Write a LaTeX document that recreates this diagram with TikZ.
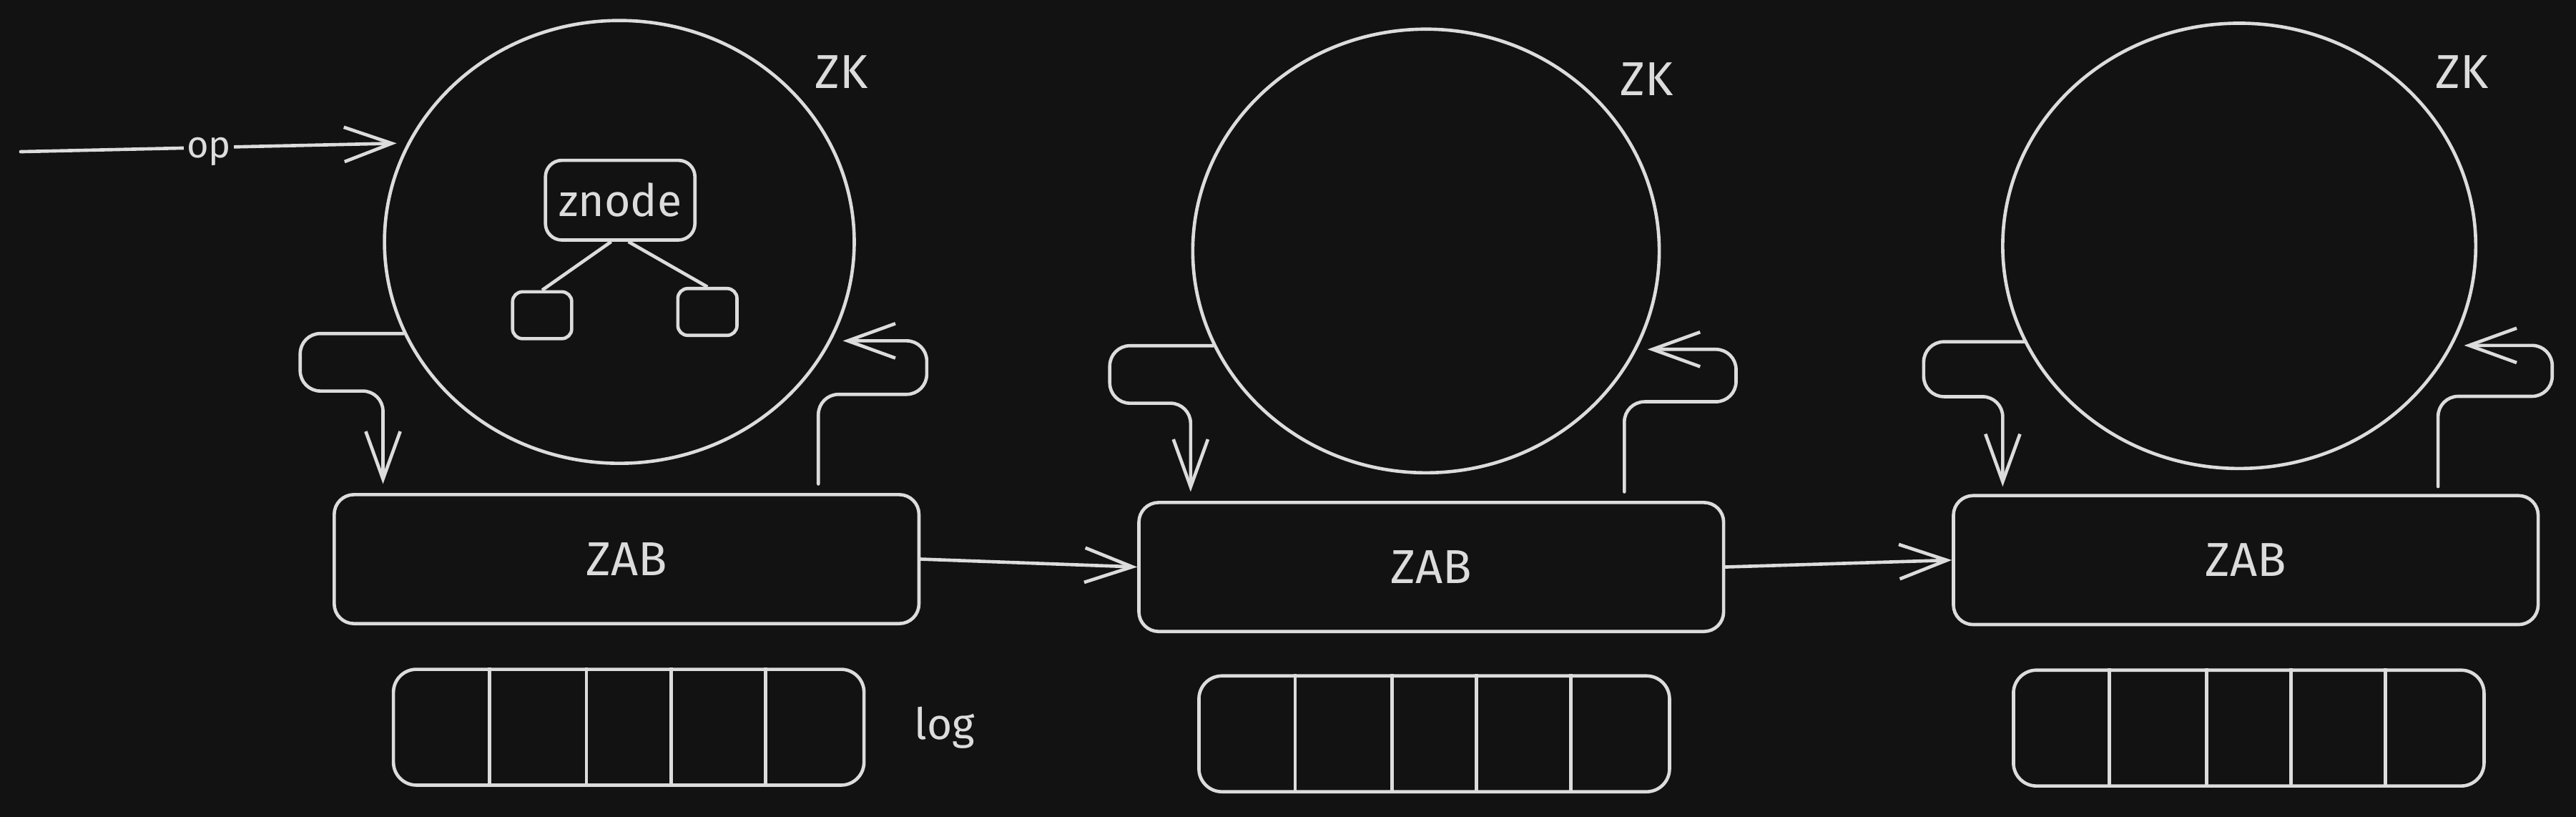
\documentclass[tikz,border=0pt]{standalone}
\usepackage{fontspec}
\setmainfont{Fira Sans}
\usetikzlibrary{shapes.geometric,arrows.meta,calc}
\definecolor{bg}{HTML}{121212}
\definecolor{fg}{HTML}{DCDCDC}
\tikzset{
  sk/.style={draw=fg, line width=1.15pt},
  ellip/.style={sk, ellipse, inner sep=0pt},
  zabbox/.style={sk, rounded corners=0.24cm, minimum width=7.12cm, minimum height=1.57cm, text=fg, font=\fontsize{16.5}{19}\selectfont},
  logbox/.style={sk, rounded corners=0.28cm, minimum width=5.73cm, minimum height=1.41cm},
  smallbox/.style={sk, rounded corners=0.12cm, minimum width=0.72cm, minimum height=0.57cm, inner sep=0pt},
  znodebox/.style={sk, rounded corners=0.2cm, minimum width=1.82cm, minimum height=0.97cm, inner sep=0pt, text=fg, font=\fontsize{15.5}{18}\selectfont},
  lbl/.style={text=fg, inner sep=0pt, font=\fontsize{16.5}{19}\selectfont},
  arr/.style={draw=fg, line width=1.15pt, line cap=round, line join=round, -{Straight Barb[length=0.58cm,width=0.42cm]}},
  loop/.style={arr, rounded corners=7pt}
}
\begin{document}
\begin{tikzpicture}[x=0.02cm,y=-0.02cm]
\fill[bg] (0,0) rectangle (1568,497.1);
\useasboundingbox (0,0) rectangle (1568,497.1);

% ZK ellipses
\node[ellip, minimum width=5.72cm, minimum height=5.39cm] (zk1) at (377,147.2) {};
\node[ellip, minimum width=5.68cm, minimum height=5.40cm] (zk2) at (868,152.7) {};
\node[ellip, minimum width=5.76cm, minimum height=5.42cm] (zk3) at (1363,149.6) {};
\node[lbl] (zkl1) at (512.3,43.7) {ZK};
\node[lbl] (zkl2) at (1002.5,48.3) {ZK};
\node[lbl] (zkl3) at (1498.5,43.6) {ZK};

% znode tree
\node[znodebox] (zn) at (377.5,121.8) {znode};
\node[smallbox] (sa) at (330,191.8) {};
\node[smallbox] (sb) at (430.6,189.8) {};
\draw[sk] ($(zn.south)+(-5.5,0)$) -- (sa.north);
\draw[sk] ($(zn.south)+(5,0)$) -- (sb.north);

% ZAB boxes
\node[zabbox] (zab1) at (381.4,340.2) {ZAB};
\node[zabbox] (zab2) at (871.2,345) {ZAB};
\node[zabbox] (zab3) at (1367,340.8) {ZAB};

% log boxes
\node[logbox] (log1) at (382.7,442.5) {};
\node[logbox] (log2) at (873,446.5) {};
\node[logbox] (log3) at (1368.8,443) {};
\foreach \lg in {log1,log2,log3}{
  \foreach \o in {59.5,118.5,170,227.5}{
    \draw[sk] ($(\lg.north west)+(\o,0)$) -- ($(\lg.south west)+(\o,0)$);
  }
}
\node[lbl, font=\fontsize{15}{18}\selectfont] (logl) at (575,443) {log};

% op arrow
\coordinate (opstart) at (12.6,92.3);
\draw[arr, shorten >=0.13cm] (opstart) -- node[pos=0.487, fill=bg, text=fg, inner xsep=1pt, inner ysep=2pt, yshift=-1.5pt, font=\fontsize{13}{15}\selectfont] (opl) {op} (zk1.155);

% loops ZK -> ZAB (left) and ZAB -> ZK (right)
\draw[loop, shorten >=0.11cm] (zk1.203) -| ++(-63,35) -| ($(zab1.north west)+(30.7,0)$);
\draw[loop, shorten <=0.11cm, shorten >=0.14cm] ($(zab1.north west)+(295.7,0)$) |- ++(66,-60) |- (zk1.-25);

\draw[loop, shorten >=0.11cm] (zk2.204) -| ++(-63,35) -| ($(zab2.north west)+(32.5,0)$);
\draw[loop, shorten <=0.11cm, shorten >=0.13cm] ($(zab2.north west)+(296.5,0)$) |- ++(68,-60.3) |- (zk2.-25);

\draw[loop, shorten >=0.09cm] (zk3.204) -| ++(-61,33.4) -| ($(zab3.north west)+(31,0)$);
\draw[loop, shorten <=0.09cm, shorten >=0.14cm] ($(zab3.north west)+(296,0)$) |- ++(69.5,-59.4) |- (zk3.-25);

% ZAB -> ZAB
\draw[arr] (zab1.east) -- (zab2.west);
\draw[arr] (zab2.east) -- (zab3.west);
\end{tikzpicture}
\end{document}
